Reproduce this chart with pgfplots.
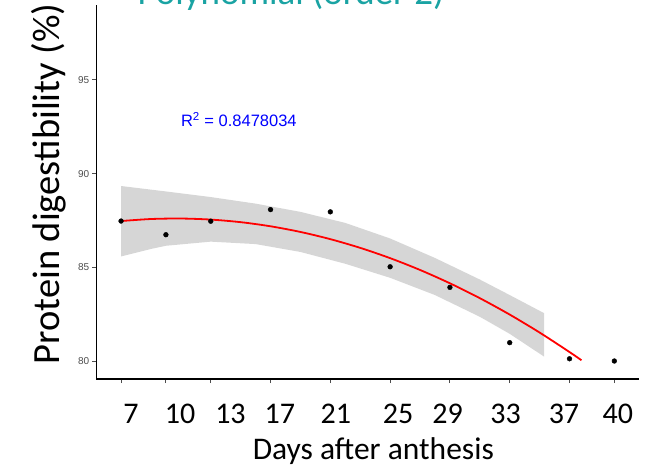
\documentclass[border=0pt]{standalone}
\usepackage{fontspec}
\setmainfont{Carlito}
\newfontfamily\arialfont{Liberation Sans}
\usepackage{pgfplots}
\pgfplotsset{compat=1.18}
\definecolor{titleteal}{HTML}{1AA3A3}
\definecolor{ribbonfill}{HTML}{999999}
\definecolor{tickgray}{HTML}{4D4D4D}

\begin{document}
\begin{tikzpicture}
\useasboundingbox (-96.4bp,-89bp) rectangle (564.6bp,379bp);
\begin{axis}[
  at={(0,0)}, anchor=south west,
  scale only axis, width=542.6bp, height=374bp,
  xmin=5.35, xmax=41.65, ymin=79.04, ymax=99.0,
  axis lines=left, axis line style={-, black, line width=1.1bp},
  tick align=outside, major tick length=4bp,
  every tick/.style={tickgray, line width=0.9bp},
  xtick={7,10,13,17,21,25,29,33,37,40}, xticklabels={},
  ytick={80,85,90,95},
  yticklabel style={font=\arialfont\fontsize{10bp}{12bp}\selectfont, text=tickgray, inner sep=0pt, xshift=-3bp},
  /pgf/number format/assume math mode=true,
  extra x ticks={7.66,10.95,14.32,17.62,21.37,25.53,28.85,32.73,36.63,40.24},
  extra x tick labels={7,10,13,17,21,25,29,33,37,40},
  extra x tick style={major tick length=0pt,
    tick label style={font=\fontsize{30bp}{36bp}\selectfont, anchor=base, yshift=-44bp, text=black}},
  every axis x label/.style={at={(axis description cs:0.5103,-0.2160)}, anchor=base,
    font=\fontsize{31.5bp}{38bp}\selectfont},
  every axis y label/.style={at={(axis description cs:-0.0671,0.0294)}, rotate=90, anchor=base west,
    font=\fontsize{38.5bp}{46bp}\selectfont},
  xlabel={Days after anthesis},
  ylabel={Protein digestibility (\%)},
  clip=false,
]
% observed digestibility
\addplot[only marks, mark=*, mark size=2.4bp, black] coordinates {
  (7,87.47) (10,86.74) (13,87.46) (17,88.08) (21,87.96)
  (25,85.03) (29,83.93) (33,80.98) (37,80.12) (40,80.00)};
% confidence band of the quadratic fit
\addplot[draw=none, fill=ribbonfill, fill opacity=0.4] coordinates {
  (7,89.34) (10,89.05) (13,88.75) (16,88.40) (19,87.96) (22,87.37)
  (25,86.54) (28,85.50) (31,84.35) (33,83.52) (35.31,82.55)
  (35.31,80.23) (33,81.45) (31,82.36) (28,83.52) (25,84.44) (22,85.19)
  (19,85.82) (16,86.24) (13,86.37) (10,86.15) (9,85.98) (7,85.58)} -- cycle;
% quadratic fit
\addplot[red, line width=1.8bp, smooth] coordinates {
  (7,87.470) (9,87.578) (11,87.604) (13,87.548) (15,87.410) (17,87.190)
  (19,86.888) (21,86.504) (23,86.038) (25,85.490) (27,84.860) (29,84.148)
  (31,83.354) (33,82.478) (35,81.520) (37,80.480) (37.8,80.040)};
\node[anchor=base west, inner sep=0pt, text=blue, font=\arialfont\fontsize{16.5bp}{20bp}\selectfont]
  at (axis cs:11,92.5) {R\textsuperscript{2} = 0.8478034};
\end{axis}
\begin{scope}
\clip (-96.4bp,-89bp) rectangle (564.6bp,379bp);
\node[anchor=base, inner sep=0pt, text=titleteal, font=\fontsize{37bp}{44bp}\selectfont]
  at (194.6bp,374.5bp) {Polynomial (order 2)};
\end{scope}
\end{tikzpicture}
\end{document}
